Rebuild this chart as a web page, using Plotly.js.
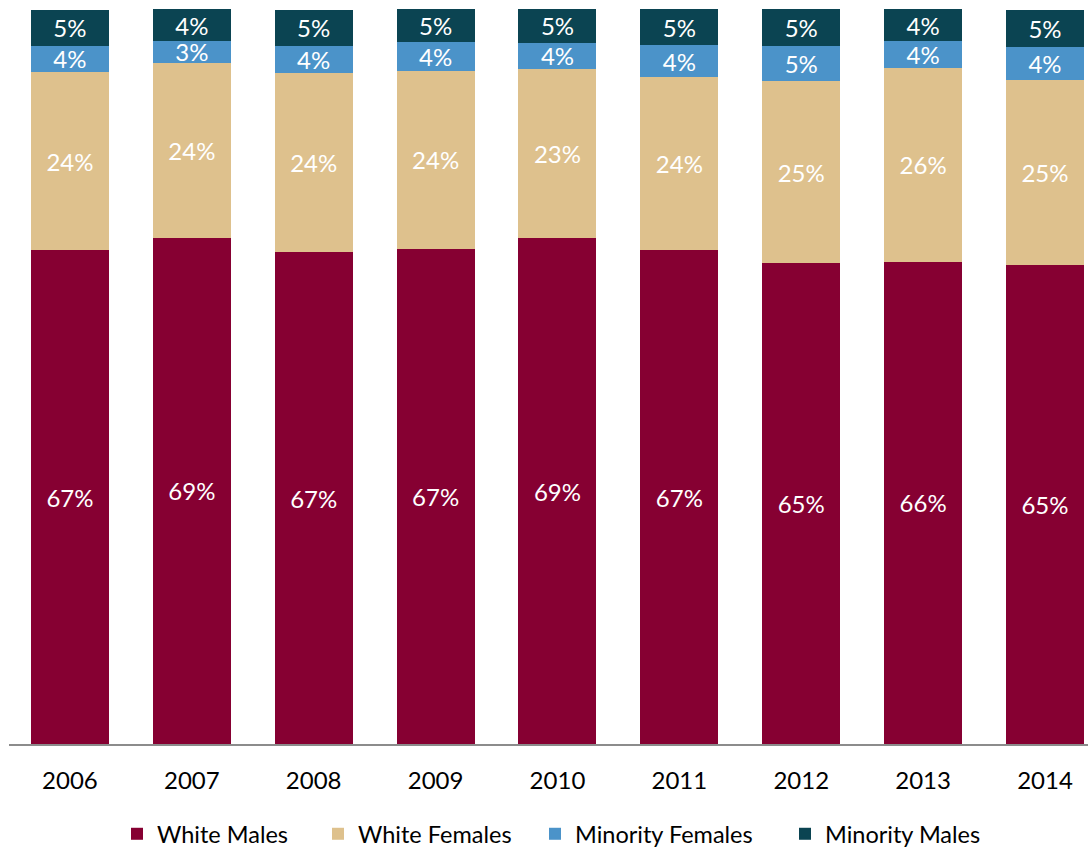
<!DOCTYPE html>
<html>
<head>
<meta charset="utf-8">
<script src="https://cdn.plot.ly/plotly-3.0.1.min.js"></script>
<style>html,body{margin:0;padding:0;background:#fff;}#chart{width:1088px;height:847px;}</style>
</head>
<body>
<div id="chart"></div>
<script>
const years = ['2006','2007','2008','2009','2010','2011','2012','2013','2014'];
const whiteMales      = [67.2, 68.9, 66.9, 67.4, 68.8, 67.2, 65.4, 65.6, 65.2];
const whiteFemales    = [24.2, 23.8, 24.4, 24.2, 23.1, 23.5, 24.8, 26.4, 25.2];
const minorityFemales = [3.6, 2.9, 3.7, 3.9, 3.5, 4.4, 4.7, 3.6, 4.4];
const minorityMales   = [4.9, 4.4, 4.9, 4.6, 4.6, 4.9, 5.2, 4.4, 5.0];

const FONT = 'Lato, "Open Sans", sans-serif';
function series(name, vals, color, legendId) {
  return {
    type: 'bar', name: name, x: years, y: vals,
    legend: legendId,
    marker: {color: color, line: {width: 0}},
    texttemplate: '%{y:.0f}%',
    textposition: 'inside',
    insidetextanchor: 'middle',
    constraintext: 'none',
    textangle: 0,
    textfont: {family: FONT, size: 24, color: '#ffffff'},
    hoverinfo: 'skip'
  };
}
const data = [
  series('White Males', whiteMales, '#860032', 'legend'),
  series('White Females', whiteFemales, '#DEC18D', 'legend2'),
  series('Minority Females', minorityFemales, '#4B93C9', 'legend3'),
  series('Minority Males', minorityMales, '#0B4452', 'legend4')
];
function leg(px) {
  return {
    orientation: 'h', xref: 'container', yref: 'container',
    x: px / 1088, xanchor: 'left', y: 1 - 834 / 847, yanchor: 'middle',
    font: {family: FONT, size: 23.5, color: '#000000'},
    bgcolor: 'rgba(0,0,0,0)', itemwidth: 30, tracegroupgap: 0
  };
}
const layout = {
  width: 1088, height: 847,
  margin: {l: 9, r: 0, t: 9, b: 102.5, pad: 0},
  barmode: 'stack',
  bargap: 0.36,
  paper_bgcolor: '#ffffff', plot_bgcolor: '#ffffff',
  font: {family: FONT, color: '#000000'},
  xaxis: {
    type: 'category', range: [-0.5, 8.353],
    showline: true, linecolor: '#8c8c8c', linewidth: 2,
    ticks: '', showgrid: false, zeroline: false,
    tickfont: {family: FONT, size: 24, color: '#000000'},
    ticklabelstandoff: 14
  },
  yaxis: {
    range: [0, 100], visible: false, showgrid: false, zeroline: false, fixedrange: true
  },
  showlegend: true,
  legend: leg(135 - 18),
  legend2: leg(336 - 18),
  legend3: leg(553 - 18),
  legend4: leg(803 - 18)
};
Plotly.newPlot('chart', data, layout, {staticPlot: true, displayModeBar: false});
</script>
</body>
</html>
